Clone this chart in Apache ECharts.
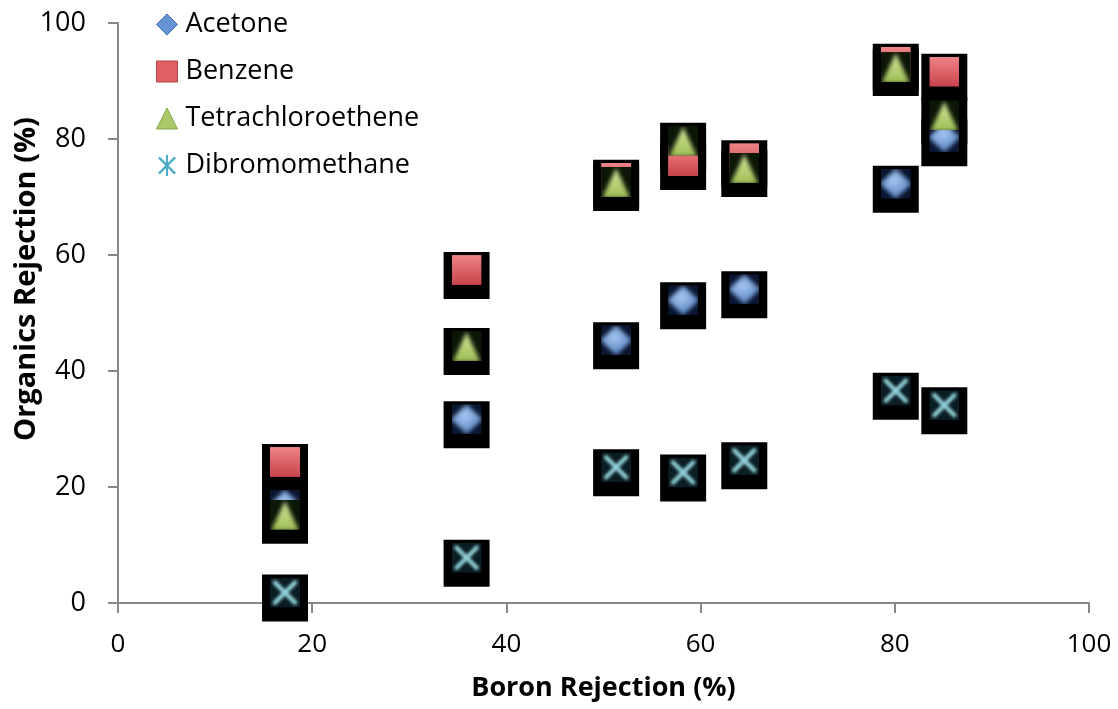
<!DOCTYPE html>
<html>
<head>
<meta charset="utf-8">
<script src="https://cdn.jsdelivr.net/npm/echarts@6/dist/echarts.min.js"></script>
<style>
html,body{margin:0;padding:0;background:#fff;}
#chart{width:1118px;height:709px;}
</style>
</head>
<body>
<div id="chart"></div>
<script>
// ---- data ----
const boronRejection = [17.2, 35.9, 51.3, 58.2, 64.5, 80.1, 85.1];
const acetone = [16.9, 31.7, 45.3, 52.2, 54.1, 72.3, 80.3];
const benzene = [24.3, 57.4, 73.3, 76.2, 76.7, 93.3, 91.6];
const tetrachloroethene = [15.2, 44.3, 72.6, 79.7, 75.0, 92.4, 84.1];
const dibromomethane = [1.8, 7.8, 23.4, 22.5, 24.6, 36.6, 34.1];
const seriesNames = ['Acetone', 'Benzene', 'Tetrachloroethene', 'Dibromomethane'];
const axisTicks = [0, 20, 40, 60, 80, 100];
const xTitle = 'Boron Rejection (%)';
const yTitle = 'Organics Rejection (%)';

// ---- styling ----
function svgUri(svg) {
  return 'image://data:image/svg+xml;charset=utf-8,' + encodeURIComponent(svg);
}
const tiles = [
  svgUri("<svg xmlns='http://www.w3.org/2000/svg' width='60' height='60' viewBox='0 0 30 30'><defs><filter id='b' x='-20%' y='-20%' width='140%' height='140%'><feGaussianBlur stdDeviation='2.3'/></filter><radialGradient id='g' cx='0.45' cy='0.4' r='0.65'><stop offset='0' stop-color='#a8c8f0'/><stop offset='1' stop-color='#4a78b8'/></radialGradient></defs><rect width='30' height='30' fill='#0a1530'/><polygon points='15,0 31,15 15,30 -1,15' fill='url(#g)' filter='url(#b)'/></svg>"),
  svgUri("<svg xmlns='http://www.w3.org/2000/svg' width='60' height='60' viewBox='0 0 30 30'><defs><linearGradient id='g' x1='0' y1='0' x2='0' y2='1'><stop offset='0' stop-color='#ee8486'/><stop offset='1' stop-color='#c9424b'/></linearGradient></defs><rect width='30' height='30' fill='url(#g)'/></svg>"),
  svgUri("<svg xmlns='http://www.w3.org/2000/svg' width='60' height='60' viewBox='0 0 30 30'><defs><filter id='b' x='-20%' y='-20%' width='140%' height='140%'><feGaussianBlur stdDeviation='1.9'/></filter><linearGradient id='g' x1='0' y1='0' x2='0' y2='1'><stop offset='0' stop-color='#d2e59a'/><stop offset='1' stop-color='#9ebd55'/></linearGradient></defs><rect width='30' height='30' fill='#0c1606'/><polygon points='15,1 29,31 1,31' fill='url(#g)' filter='url(#b)'/></svg>"),
  svgUri("<svg xmlns='http://www.w3.org/2000/svg' width='60' height='60' viewBox='0 0 30 30'><defs><filter id='b' x='-20%' y='-20%' width='140%' height='140%'><feGaussianBlur stdDeviation='1.8'/></filter></defs><rect width='30' height='30' fill='#0a1c24'/><g filter='url(#b)' stroke='#8fcfd5' stroke-width='4.5' stroke-linecap='round'><line x1='5' y1='5' x2='25' y2='25'/><line x1='25' y1='5' x2='5' y2='25'/></g><line x1='15' y1='3' x2='15' y2='27' stroke='#5fa9b4' stroke-width='2' opacity='0.5' filter='url(#b)'/></svg>")
];
const legendColors = ['#6593d3', '#df5f62', '#a9c86a', '#4bacc6'];
const legendBorders = ['#3f6fb0', '#b9474a', '#88a94b', '#4bacc6'];
const asteriskPath = 'path://M9,0 L11,0 L11,20 L9,20 Z M1.5,3 L3,1.5 L18.5,17 L17,18.5 Z M17,1.5 L18.5,3 L3,18.5 L1.5,17 Z';
const legendIcons = ['diamond', 'rect', 'triangle', asteriskPath];

const allSeries = [acetone, benzene, tetrachloroethene, dibromomethane];
const pairs = vals => boronRejection.map((x, i) => [x, vals[i]]);

const series = [];
// black backgrounds behind every marker (bottom layer)
series.push({
  name: 'bg',
  type: 'scatter',
  z: 1,
  silent: true,
  clip: false,
  symbol: 'rect',
  symbolSize: [46, 47],
  symbolOffset: [0, 5.5],
  itemStyle: { color: '#000', opacity: 1 },
  data: allSeries.flatMap(pairs)
});
allSeries.forEach((vals, k) => {
  series.push({
    name: seriesNames[k],
    type: 'scatter',
    z: 2,
    clip: false,
    symbol: tiles[k],
    symbolSize: 30,
    itemStyle: { color: legendColors[k], opacity: 1 },
    data: pairs(vals)
  });
});

const chart = echarts.init(document.getElementById('chart'), null, { renderer: 'canvas' });
chart.setOption({
  animation: false,
  backgroundColor: '#ffffff',
  grid: { left: 118, right: 29, top: 23, bottom: 106, containLabel: false },
  legend: {
    orient: 'vertical',
    left: 151,
    top: 6,
    itemWidth: 21,
    itemHeight: 21,
    itemGap: 20,
    selectedMode: false,
    textStyle: { fontFamily: 'Open Sans', fontSize: 27, color: '#000', lineHeight: 20, padding: [0, 0, 0, 3] },
    data: seriesNames.map((n, k) => ({
      name: n,
      icon: legendIcons[k],
      itemStyle: { color: legendColors[k], borderColor: legendBorders[k], borderWidth: k === 3 ? 0 : 1 }
    }))
  },
  xAxis: {
    type: 'value',
    min: axisTicks[0],
    max: axisTicks[axisTicks.length - 1],
    interval: 20,
    name: xTitle,
    nameLocation: 'middle',
    nameGap: 72,
    nameTextStyle: { fontFamily: 'Open Sans', fontWeight: 'bold', fontSize: 27, color: '#000' },
    splitLine: { show: false },
    axisLine: { show: true, onZero: false, lineStyle: { color: '#898989', width: 2 } },
    axisTick: { show: true, inside: false, length: 10, lineStyle: { color: '#898989', width: 2 } },
    axisLabel: { margin: 29, fontFamily: 'Open Sans', fontSize: 26, color: '#000' }
  },
  yAxis: {
    type: 'value',
    min: axisTicks[0],
    max: axisTicks[axisTicks.length - 1],
    interval: 20,
    splitLine: { show: false },
    axisLine: { show: true, onZero: false, lineStyle: { color: '#898989', width: 2 } },
    axisTick: { show: true, inside: false, length: 10, lineStyle: { color: '#898989', width: 2 } },
    axisLabel: { margin: 32, fontFamily: 'Open Sans', fontSize: 27, color: '#000' }
  },
  graphic: [{
    type: 'text',
    x: 27,
    y: 279,
    rotation: Math.PI / 2,
    style: {
      text: yTitle,
      fontFamily: 'Open Sans',
      fontWeight: 'bold',
      fontSize: 29,
      fill: '#000',
      textAlign: 'center',
      textVerticalAlign: 'middle'
    }
  }],
  series: series
});
</script>
</body>
</html>
